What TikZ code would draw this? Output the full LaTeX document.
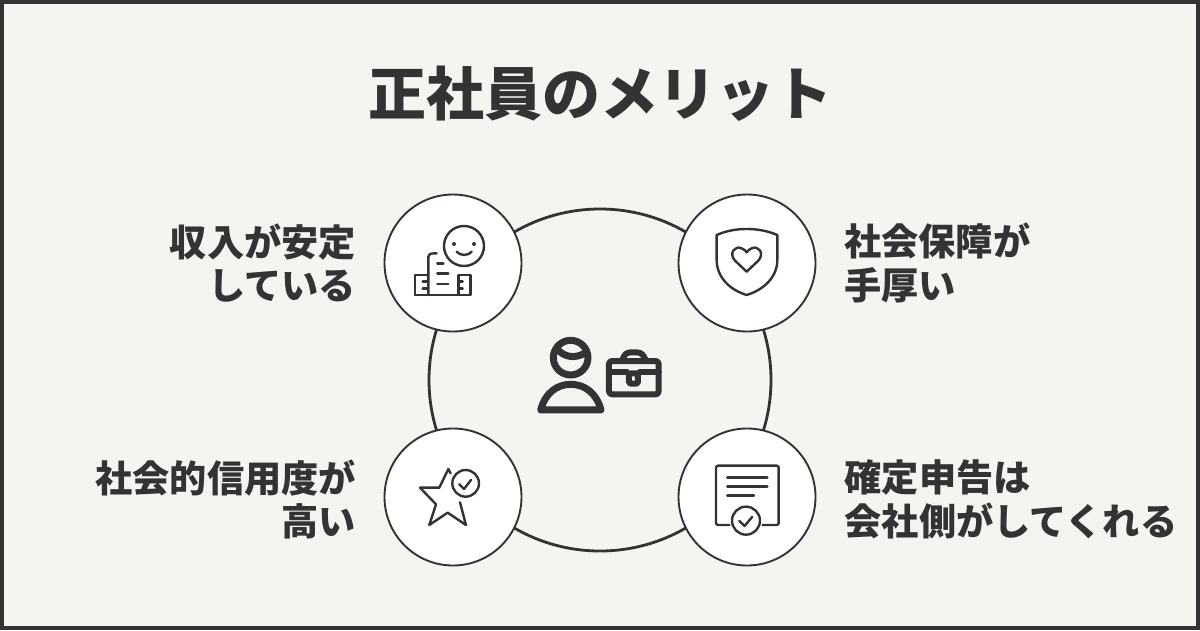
\documentclass[tikz,border=0pt]{standalone}
\usepackage{fontspec}
\setmainfont{Noto Sans CJK JP}
\definecolor{ink}{HTML}{333333}
\definecolor{paper}{HTML}{F5F4F0}
\tikzset{
  x=1pt,y=-1pt,
  badge/.style={circle,draw=ink,line width=1.9pt,fill=white!99!paper,minimum size=137pt,inner sep=0pt},
  ring/.style={circle,draw=ink,line width=2.8pt,minimum size=342pt,inner sep=0pt},
  lab/.style={font=\fontsize{37.2}{43.5}\selectfont\bfseries,text=ink,inner sep=0pt},
  labl/.style={lab,align=right,anchor=east},
  labr/.style={lab,align=left,anchor=west},
  ttl/.style={font=\fontsize{58}{64}\selectfont\bfseries,text=ink,inner sep=0pt},
  ic/.style={draw=ink,line width=2.4pt,line cap=round,line join=round},
  icb/.style={draw=ink,line width=7pt,line cap=round,line join=round},
  icc/.style={draw=ink,line width=6pt,line cap=round,line join=round},
}
\begin{document}
\begin{tikzpicture}
\useasboundingbox (0,0) rectangle (1200,630);
\draw[draw=ink,fill=paper,line width=4pt] (2,2) rectangle (1198,628);
\node[ttl] (title) at (600,94) {正社員のメリット};
\node[ring] (hub) at (600,380) {};
\node[badge] (tl) at (453,263) {};
\node[badge] (tr) at (747,263) {};
\node[badge] (bl) at (453,497) {};
\node[badge] (br) at (747,497) {};
\node[labl] (ltl) at (356,263) {収入が安定\\している};
\node[labr] (ltr) at (844,263) {社会保障が\\手厚い};
\node[labl] (lbl) at (356,499.5) {社会的信用度が\\高い};
\node[labr] (lbr) at (844.5,499.5) {確定申告は\\会社側がしてくれる};
% icon TL
\begin{scope}[shift={(380,190)},x=0.3333pt,y=-0.3333pt]
\draw[ic] (252,168) circle (60);
\fill[ink] (222,162) circle (6) (282,162) circle (6);
\draw[ic] (230,185) .. controls (240,198) and (265,198) .. (275,185);
\draw[ic] (105,315) -- (272,315) -- (272,255) -- (235,255) -- (235,315);
\draw[ic] (105,315) -- (105,255) -- (145,255);
\draw[ic] (145,315) -- (145,200) .. controls (145,192) and (150,190) .. (170,190);
\draw[ic] (172,220) -- (190,220) (172,250) -- (205,250) (172,282) -- (205,282);
\draw[ic] (128,275) -- (142,275) (128,295) -- (142,295) (235,275) -- (248,275) (235,295) -- (248,295);
\end{scope}
% icon TR
\begin{scope}[shift={(670,190)},x=0.3333pt,y=-0.3333pt]
\draw[ic] (140,135) .. controls (170,122) and (200,117) .. (230,117) .. controls (260,117) and (292,122) .. (322,135) -- (322,210) .. controls (322,262) and (280,300) .. (230,315) .. controls (180,300) and (140,262) .. (140,210) -- cycle;
\draw[ic] (230,245) -- (195,212) .. controls (175,190) and (195,165) .. (215,175) .. controls (222,178) and (227,182) .. (230,187) .. controls (233,182) and (238,178) .. (245,175) .. controls (265,165) and (285,190) .. (265,212) -- cycle;
\end{scope}
% icon BL
\begin{scope}[shift={(380,425)},x=0.3333pt,y=-0.3333pt]
\draw[ic] (212,145) -- (205,132) -- (178,188) -- (120,188) -- (168,238) -- (148,300) -- (203,263) -- (258,300) -- (240,232);
\draw[ic] (257,175) circle (40);
\draw[ic] (238,178) -- (252,192) -- (273,165);
\end{scope}
% icon BR
\begin{scope}[shift={(670,425)},x=0.3333pt,y=-0.3333pt]
\draw[ic,rounded corners=2pt] (178,300) -- (138,300) -- (138,122) -- (326,122) -- (326,300) -- (278,300);
\draw[ic] (172,158) -- (292,158) (172,185) -- (292,185) (172,212) -- (252,212);
\draw[ic] (228,287) circle (42);
\draw[ic] (208,288) -- (224,303) -- (247,275);
\end{scope}
% centre icon
\begin{scope}[shift={(525,325)},x=0.3333pt,y=-0.3333pt]
\draw[icb] (137,98) circle (52);
\draw[icb] (100,76) .. controls (120,96) and (150,102) .. (180,84);
\draw[icb] (47,255) -- (228,255) .. controls (215,205) and (180,178) .. (137,178) .. controls (95,178) and (60,205) .. (47,255) -- cycle;
\draw[icc,rounded corners=3pt] (252,108) rectangle (401,208);
\draw[icc] (292,105) .. controls (298,88) and (305,82) .. (318,82) -- (335,82) .. controls (350,82) and (355,90) .. (362,105);
\draw[icc] (252,142) -- (306,142) (344,142) -- (401,142);
\draw[icc,rounded corners=1.5pt] (312,145) rectangle (339,176);
\end{scope}
\end{tikzpicture}
\end{document}
